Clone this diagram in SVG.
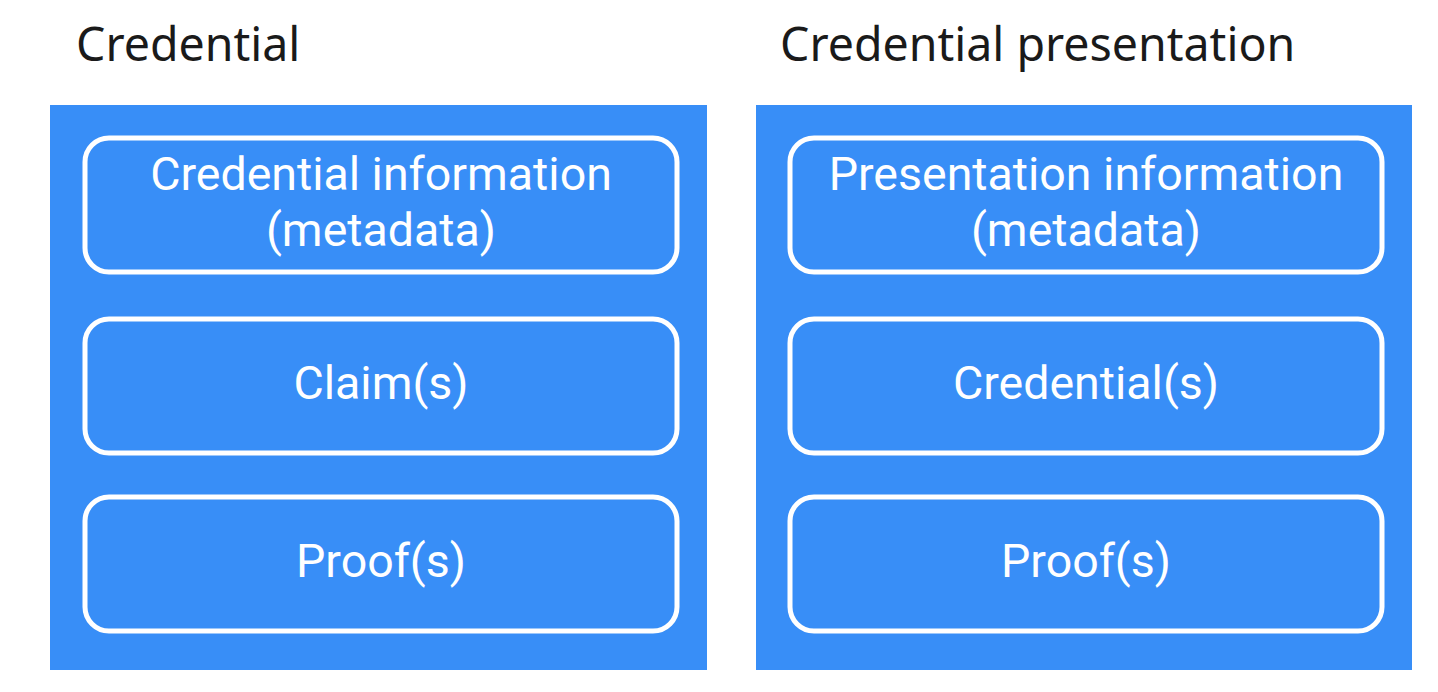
<svg xmlns="http://www.w3.org/2000/svg" width="1438" height="692" viewBox="0 0 1438 692">
<style>
.title{font-family:"Noto Sans","Open Sans",sans-serif;font-size:46.5px;fill:#1a1a1a}
.panel{fill:#388ef7}
.box{fill:none;stroke:#ffffff;stroke-width:5}
.lbl{font-family:Roboto,"Liberation Sans",sans-serif;font-size:46.5px;fill:#ffffff;text-anchor:middle}
</style>
<rect width="1438" height="692" fill="#ffffff"/>
<g id="credential">
<text class="title" x="76" y="61">Credential</text>
<rect class="panel" x="50" y="105" width="657" height="565"/>
<g id="cred-info"><rect class="box" x="85" y="138" width="592" height="134" rx="24"/>
<text class="lbl" x="381" y="190">Credential information</text><text class="lbl" x="381" y="246">(metadata)</text></g>
<g id="cred-claims"><rect class="box" x="85" y="319" width="592" height="134" rx="24"/>
<text class="lbl" x="381" y="399">Claim(s)</text></g>
<g id="cred-proofs"><rect class="box" x="85" y="497" width="592" height="134" rx="24"/>
<text class="lbl" x="381" y="577">Proof(s)</text></g>
</g>
<g id="presentation">
<text class="title" x="780" y="61">Credential presentation</text>
<rect class="panel" x="756" y="105" width="656" height="565"/>
<g id="pres-info"><rect class="box" x="790" y="138" width="592" height="134" rx="24"/>
<text class="lbl" x="1086" y="190">Presentation information</text><text class="lbl" x="1086" y="246">(metadata)</text></g>
<g id="pres-creds"><rect class="box" x="790" y="319" width="592" height="134" rx="24"/>
<text class="lbl" x="1086" y="399">Credential(s)</text></g>
<g id="pres-proofs"><rect class="box" x="790" y="497" width="592" height="134" rx="24"/>
<text class="lbl" x="1086" y="577">Proof(s)</text></g>
</g>
<g id="connectors"></g>
</svg>
